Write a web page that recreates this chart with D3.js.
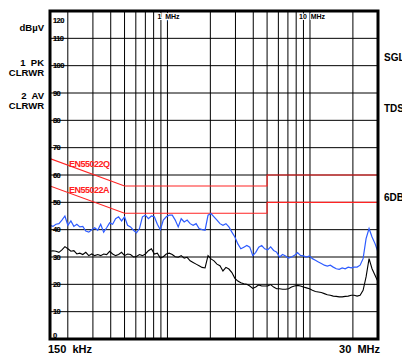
<!DOCTYPE html>
<html lang="en">
<head>
<meta charset="utf-8">
<title>EMI scan</title>
<script src="https://cdn.jsdelivr.net/npm/d3@7"></script>
<style>
  body { margin: 0; background: #fff; }
  text { font-family: "Liberation Sans", Arial, sans-serif; font-weight: bold; }
</style>
</head>
<body>
<script>
// sweep: 111 log-spaced points, 150 kHz .. 30 MHz
var startMHz = 0.15, stopMHz = 30, nPoints = 111;
var sweepMHz = d3.range(nPoints).map(function(i) {
  return startMHz * Math.pow(stopMHz / startMHz, i / (nPoints - 1));
});

// 1 PK CLRWR (blue)
var peakDb = [41.6,41.2,42,42.2,43.5,45,41.6,43.2,41.2,42,41,41.2,39.5,39.1,40,40.7,39.8,42,39.1,40.7,42.5,42,44,44.7,43.2,44.7,41.6,41,39.8,38.8,40.4,44.7,45.3,44,45,44.7,42,
  40,43.5,44.7,45.3,45.3,43.5,41,44,42.8,43.5,42.2,41.6,42.2,40.4,40,39.8,45.3,45.9,44.7,43.5,42.2,41.6,42.2,41,39.1,37.3,34.8,33,33.6,34.2,33.6,30.5,31.7,33.6,34.2,33,32.6,
  33.7,32.4,31.8,30,30.9,30.4,29.6,30,30.6,31.6,30.6,30.4,30,30.4,29.4,28.8,28.2,27.6,27,26.7,27,26.3,25.7,25.5,26,25.7,26.3,26,26.3,26.3,27,29.4,36.7,40.4,37.3,34.9,31.8];

// 2 AV CLRWR (black)
var avgDb = [32.1,32.3,32.1,31.7,32.6,33.8,33,32.1,32.3,31.1,31.4,30.9,31.7,30.5,31.1,30.5,30.9,30.5,31.1,30.9,32.1,31.1,30.5,30.9,31.7,30.5,31.1,30.9,30,30.2,30.9,30.5,31.1,32.3,33,31.1,31.4,
  29.6,30.1,31.1,31.4,30.9,30.1,29.9,30.5,29.6,29.9,28.6,28,27.4,26.8,26.2,26,30.5,29.3,28.6,27.4,26.8,24.9,26.2,25.6,24.3,22.2,21.2,20.6,20.2,20,19.4,18.5,19,19.8,19.4,19.4,19.4,
  19.9,19,18.4,18.4,18.2,18.2,18.4,19,19.4,19.6,19.4,19,18.7,18.4,17.8,17.4,17.2,17,16.6,16.2,16,15.7,15.6,15.4,15.4,15.6,15.7,16,16,15.7,16,17.8,22.7,29.4,25.7,23.3,20.9];

// limit lines
var limitFreq = [0.15, 0.5, 5, 5, 30];
var qpLimitDb = [66, 56, 56, 60, 60];
var avLimitDb = [56, 46, 46, 50, 50];

var gridFreq = [0.2,0.3,0.4,0.5,0.6,0.7,0.8,0.9,1,2,3,4,5,6,7,8,9,10,20];
var dbTicks = d3.range(0, 130, 10);

var w = 402, h = 356;
var plotL = 50, plotR = 378, plotT = 11, plotB = 339;

var x = d3.scaleLog().domain([startMHz, stopMHz]).range([plotL, plotR]);
var y = d3.scaleLinear().domain([0, 120]).range([plotB, plotT]);

var svg = d3.select("body").append("svg")
  .attr("width", w).attr("height", h);

svg.append("rect").attr("width", w).attr("height", h).attr("fill", "#fff");

svg.append("clipPath").attr("id", "plot")
  .append("rect").attr("x", plotL).attr("y", plotT)
  .attr("width", plotR - plotL).attr("height", plotB - plotT);

// grid
var grid = svg.append("g").attr("stroke", "#000").attr("stroke-width", 1);
grid.selectAll("line.v").data(gridFreq).enter().append("line")
  .attr("x1", function(d) { return x(d); }).attr("x2", function(d) { return x(d); })
  .attr("y1", plotT).attr("y2", plotB);
grid.selectAll("line.h").data(dbTicks.slice(1, -1)).enter().append("line")
  .attr("x1", plotL).attr("x2", plotR)
  .attr("y1", function(d) { return y(d); }).attr("y2", function(d) { return y(d); });

// y tick labels
svg.append("g").selectAll("text").data(dbTicks).enter().append("text")
  .attr("x", plotL + 3)
  .attr("y", function(d) {
    if (d === 120) return y(d) + 12;
    if (d === 0) return y(d) - 1.5;
    return y(d) + 2.8;
  })
  .attr("font-size", 7.5).attr("letter-spacing", -0.6)
  .attr("stroke", "#000").attr("stroke-width", 0.2)
  .text(function(d) { return d; });

var line = d3.line()
  .x(function(d) { return x(d[0]); })
  .y(function(d) { return y(d[1]); });

var plot = svg.append("g").attr("clip-path", "url(#plot)");

plot.append("path").datum(d3.zip(limitFreq, qpLimitDb))
  .attr("d", line).attr("fill", "none").attr("stroke", "#ff2424").attr("stroke-width", 1.1);
plot.append("path").datum(d3.zip(limitFreq, avLimitDb))
  .attr("d", line).attr("fill", "none").attr("stroke", "#ff2424").attr("stroke-width", 1.1);

plot.append("path").datum(d3.zip(sweepMHz, peakDb))
  .attr("d", line).attr("fill", "none").attr("stroke", "#2e5cff").attr("stroke-width", 1.2);
plot.append("path").datum(d3.zip(sweepMHz, avgDb))
  .attr("d", line).attr("fill", "none").attr("stroke", "#000").attr("stroke-width", 1.1);

// limit labels
svg.append("text").attr("x", 69).attr("y", 167).attr("fill", "#ff2020")
  .attr("font-size", 9).attr("letter-spacing", -0.5).text("EN55022Q");
svg.append("text").attr("x", 69).attr("y", 193).attr("fill", "#ff2020")
  .attr("font-size", 9).attr("letter-spacing", -0.5).text("EN55022A");

// frame
svg.append("rect").attr("x", plotL).attr("y", plotT)
  .attr("width", plotR - plotL).attr("height", plotB - plotT)
  .attr("fill", "none").attr("stroke", "#000").attr("stroke-width", 3);

// frequency markers at top
svg.append("text").attr("x", x(1) - 10).attr("y", 19).attr("font-size", 7)
  .attr("stroke", "#fff").attr("stroke-width", 2).attr("paint-order", "stroke")
  .style("white-space", "pre").text("1  MHz");
svg.append("text").attr("x", x(10) - 11).attr("y", 19).attr("font-size", 7)
  .attr("stroke", "#fff").attr("stroke-width", 2).attr("paint-order", "stroke")
  .style("white-space", "pre").text("10  MHz");

// left labels
var leftLabels = [["dBµV", 31], ["1  PK", 66], ["CLRWR", 75.5], ["2  AV", 99], ["CLRWR", 108.5]];
svg.append("g").selectAll("text").data(leftLabels).enter().append("text")
  .attr("x", 44).attr("y", function(d) { return d[1]; })
  .attr("text-anchor", "end").attr("font-size", 9.5)
  .style("white-space", "pre")
  .text(function(d) { return d[0]; });

// right labels
var rightLabels = [["SGL", 61], ["TDS", 112], ["6DB", 201]];
svg.append("g").selectAll("text").data(rightLabels).enter().append("text")
  .attr("x", 384).attr("y", function(d) { return d[1]; })
  .attr("font-size", 10)
  .text(function(d) { return d[0]; });

// bottom labels
svg.append("text").attr("x", 48).attr("y", 353).attr("font-size", 11)
  .style("white-space", "pre").text("150  kHz");
svg.append("text").attr("x", 380).attr("y", 353).attr("font-size", 11)
  .attr("text-anchor", "end").style("white-space", "pre").text("30  MHz");
</script>
</body>
</html>
